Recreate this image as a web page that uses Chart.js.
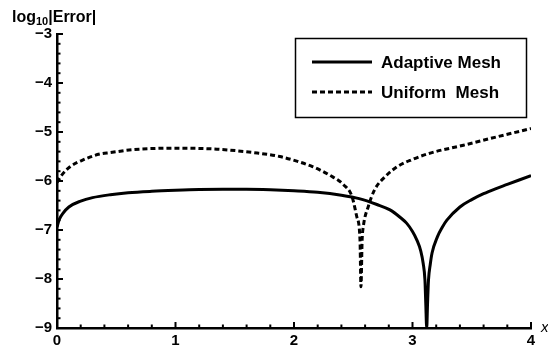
<!DOCTYPE html>
<html>
<head>
<meta charset="utf-8">
<script src="https://cdn.jsdelivr.net/npm/chart.js@4.4.1/dist/chart.umd.min.js"></script>
<style>
  html, body { margin: 0; padding: 0; background: #fff; }
  canvas { display: block; }
</style>
</head>
<body>
<canvas id="errChart" width="548" height="350"></canvas>
<script>
// values
const adaptiveX = [0, 0.02, 0.05, 0.1, 0.2, 0.3, 0.45, 0.6, 0.8, 1.0, 1.2, 1.4, 1.6, 1.8, 2.0, 2.2, 2.4, 2.55, 2.7, 2.81, 2.9, 2.95, 3.0, 3.036, 3.07, 3.09, 3.105, 3.112, 3.12, 3.127, 3.135, 3.15, 3.165, 3.21, 3.25, 3.29, 3.4, 3.5, 3.6, 3.7, 3.8, 3.9, 4.0];
const adaptiveY = [-6.94, -6.78, -6.66, -6.53, -6.41, -6.34, -6.28, -6.24, -6.21, -6.19, -6.175, -6.17, -6.17, -6.18, -6.2, -6.23, -6.29, -6.36, -6.48, -6.59, -6.75, -6.86, -7.03, -7.2, -7.43, -7.68, -8.02, -8.5, -9, -8.5, -8.02, -7.7, -7.47, -7.14, -6.95, -6.8, -6.53, -6.38, -6.26, -6.16, -6.07, -5.98, -5.89];

const uniformX = [0, 0.04, 0.11, 0.22, 0.36, 0.45, 0.64, 1.0, 1.35, 1.69, 1.88, 2.03, 2.16, 2.3, 2.42, 2.49, 2.53, 2.557, 2.565, 2.575, 2.585, 2.627, 2.68, 2.77, 2.87, 3.0, 3.15, 3.43, 3.71, 4.0];
const uniformY = [-6.03, -5.88, -5.71, -5.57, -5.45, -5.42, -5.36, -5.33, -5.35, -5.43, -5.5, -5.6, -5.71, -5.88, -6.08, -6.32, -6.73, -7.2, -8.16, -7.2, -6.93, -6.52, -6.18, -5.91, -5.71, -5.56, -5.43, -5.27, -5.1, -4.93];

const seriesNames = ["Adaptive Mesh", "Uniform  Mesh"];
const xTicks = [0, 1, 2, 3, 4];
const yTicks = [-9, -8, -7, -6, -5, -4, -3];

const FONT = "'Liberation Sans', Arial, sans-serif";

function pts(xs, ys) {
  return xs.map((x, i) => ({ x: x, y: ys[i] }));
}

function isMajor(v) {
  return Math.abs(v - Math.round(v)) < 1e-6;
}

// inward tick marks, legend box and axis titles
const decor = {
  id: 'decor',
  afterDraw(chart) {
    const c = chart.ctx;
    const a = chart.chartArea;
    const sx = chart.scales.x, sy = chart.scales.y;
    c.save();
    c.strokeStyle = '#000';
    c.lineWidth = 2;
    c.lineCap = 'butt';
    sx.ticks.forEach(t => {
      const p = sx.getPixelForValue(t.value);
      const len = isMajor(t.value) ? 6 : 3.5;
      c.beginPath(); c.moveTo(p, a.bottom); c.lineTo(p, a.bottom - len); c.stroke();
    });
    sy.ticks.forEach(t => {
      const p = sy.getPixelForValue(t.value);
      const len = isMajor(t.value) ? 6 : 3.5;
      c.beginPath(); c.moveTo(a.left, p); c.lineTo(a.left + len, p); c.stroke();
    });

    // y title
    c.fillStyle = '#000';
    c.textBaseline = 'alphabetic';
    c.textAlign = 'left';
    c.font = 'bold 16px ' + FONT;
    let tx = 12;
    c.fillText('log', tx, 22);
    tx += c.measureText('log').width;
    c.font = 'bold 11px ' + FONT;
    c.fillText('10', tx, 25);
    tx += c.measureText('10').width;
    c.font = 'bold 16px ' + FONT;
    c.fillText('|Error|', tx, 22);

    // x title
    c.font = 'italic 15px ' + FONT;
    c.fillText('x', a.right + 10, a.bottom + 4);

    // legend
    c.lineWidth = 1.5;
    c.strokeRect(295.5, 38.5, 231, 79);
    chart.data.datasets.forEach((ds, i) => {
      const y = 62 + i * 30;
      c.lineWidth = 3;
      c.setLineDash(ds.borderDash || []);
      c.beginPath(); c.moveTo(312, y); c.lineTo(372, y); c.stroke();
      c.setLineDash([]);
      c.font = 'bold 17px ' + FONT;
      c.fillText(ds.label, 381, y + 6);
    });
    c.restore();
  }
};

const config = {
  type: 'line',
  data: {
    datasets: [
      {
        label: seriesNames[0],
        data: pts(adaptiveX, adaptiveY),
        borderColor: '#000',
        borderWidth: 3,
        pointRadius: 0,
        cubicInterpolationMode: 'monotone',
      },
      {
        label: seriesNames[1],
        data: pts(uniformX, uniformY),
        borderColor: '#000',
        borderWidth: 3,
        borderDash: [5, 3],
        pointRadius: 0,
        cubicInterpolationMode: 'monotone',
      },
    ],
  },
  options: {
    responsive: false,
    animation: false,
    layout: { padding: { top: 34, right: 17, left: 0, bottom: 0 } },
    plugins: { legend: { display: false }, tooltip: { enabled: false } },
    scales: {
      x: {
        type: 'linear',
        min: 0, max: 4,
        grid: { display: false, drawTicks: false },
        border: { color: '#000', width: 2.5 },
        ticks: {
          stepSize: 0.2, autoSkip: false, maxRotation: 0, padding: 4,
          color: '#000', font: { family: FONT, size: 15, weight: 'bold' },
          callback: v => (isMajor(v) && xTicks.includes(Math.round(v))) ? String(Math.round(v)) : '',
        },
        afterFit: s => { s.height = 22; },
      },
      y: {
        min: -9, max: -3,
        grid: { display: false, drawTicks: false },
        border: { color: '#000', width: 2.5 },
        ticks: {
          stepSize: 0.2, autoSkip: false, padding: 5,
          color: '#000', font: { family: FONT, size: 15, weight: 'bold' },
          callback: v => (isMajor(v) && yTicks.includes(Math.round(v))) ? '\u2212' + Math.abs(Math.round(v)) : '',
        },
        afterFit: s => { s.width = 57; },
      },
    },
  },
  plugins: [decor],
};

const errChart = new Chart(document.getElementById('errChart'), config);
</script>
</body>
</html>
